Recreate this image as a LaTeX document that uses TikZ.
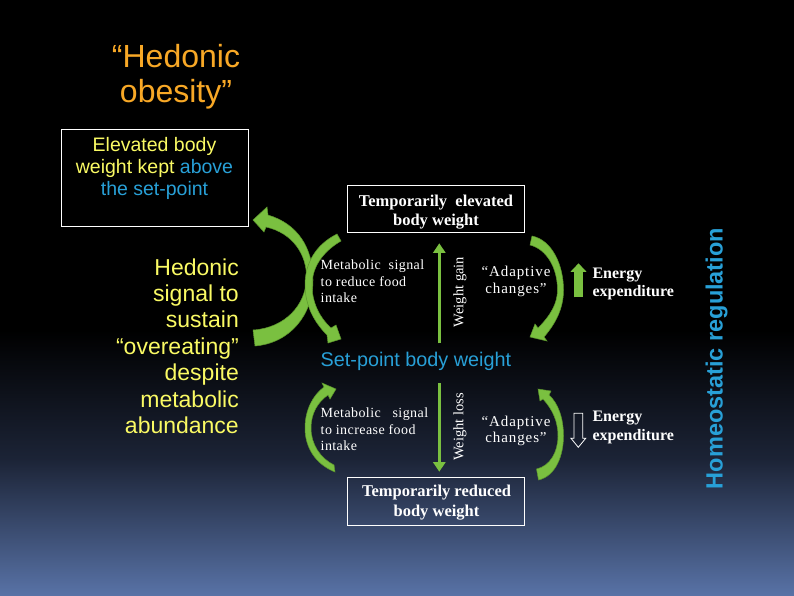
\documentclass[tikz,border=0pt]{standalone}
\usepackage{fontspec}
\setmainfont{Liberation Serif}
\setsansfont{Liberation Sans}
\usetikzlibrary{arrows.meta}
\definecolor{hyel}{RGB}{250,250,100}
\definecolor{hblu}{RGB}{40,160,215}
\definecolor{horg}{RGB}{248,168,38}
\definecolor{hgrn}{RGB}{122,192,64}
\definecolor{hgrnd}{RGB}{92,150,45}
\definecolor{bgmid}{RGB}{28,36,55}
\definecolor{bgbot}{RGB}{88,114,166}
\newcommand{\mlines}[2]{\begin{tabular}[t]{@{}#1@{}}#2\end{tabular}}
\begin{document}
\begin{tikzpicture}[x=1pt,y=-1pt,
  txt/.style={inner sep=0pt, anchor=base},
  titletxt/.style={txt, text=horg, font=\sffamily\fontsize{32}{35}\selectfont},
  elevtxt/.style={txt, text=hyel, font=\sffamily\fontsize{19.5}{21.7}\selectfont},
  hedtxt/.style={txt, anchor=base east, text=hyel, font=\sffamily\fontsize{23}{26.4}\selectfont},
  boxtxt/.style={txt, text=white, font=\bfseries\fontsize{16.5}{19.5}\selectfont},
  smalltxt/.style={txt, anchor=base west, text=white, font=\fontsize{14}{16.7}\selectfont\addfontfeature{LetterSpace=3}},
  adapttxt/.style={txt, text=white, font=\fontsize{15}{16.5}\selectfont\addfontfeature{LetterSpace=6}},
  energytxt/.style={txt, anchor=base west, text=white, font=\bfseries\fontsize{16}{18.4}\selectfont},
  wtxt/.style={inner sep=0pt, rotate=90, text=white, font=\fontsize{14.5}{16}\selectfont},
  wbox/.style={draw=white, line width=0.9pt, inner sep=0pt, fill=none},
  garrow/.style={fill=hgrn, draw=hgrnd, line width=0.5pt},
  varrow/.style={draw=hgrn, line width=3.5pt, -{Triangle[width=12pt,length=9.5pt]}},
]
% background
\fill[black] (0,0) rectangle (794,595);
\shade[top color=black, bottom color=bgmid] (0,330) rectangle (794,461);
\shade[top color=bgmid, bottom color=bgbot] (0,460) rectangle (794,595);
\useasboundingbox (0,0) rectangle (794,595);

% title
\node[titletxt] (title) at (176,67) {\mlines{c}{“Hedonic\\obesity”}};

% elevated box
\node[wbox, minimum width=187pt, minimum height=97pt] (elevbox) at (154.5,177.5) {};
\node[elevtxt] (elev) at (154.5,151.7) {\mlines{c}{Elevated body\\weight kept \textcolor{hblu}{above}\\\textcolor{hblu}{the set-point}}};

% hedonic signal
\node[hedtxt] (hed) at (239,275) {\mlines{r}{Hedonic\\signal to\\sustain\\“overeating”\\despite\\metabolic\\abundance}};

% temporarily boxes
\node[wbox, minimum width=177pt, minimum height=47pt] (tebox) at (435.5,208.5) {};
\node[boxtxt] (tetxt) at (436,206) {\mlines{c}{Temporarily~ elevated\\body weight}};
\node[wbox, minimum width=177pt, minimum height=48pt] (trbox) at (435.5,501) {};
\node[boxtxt] (trtxt) at (436.5,496.7) {\mlines{c}{Temporarily reduced\\body weight}};

% set-point
\node[txt, anchor=base west, text=hblu, font=\sffamily\fontsize{19.8}{22}\selectfont] (setpt) at (320.5,366.7) {Set-point body weight};

% metabolic signals
\node[smalltxt] (metup) at (320.5,269.3) {\mlines{l}{Metabolic~ signal\\to reduce food\\intake}};
\node[smalltxt] (metdn) at (320.5,417.3) {\mlines{l}{Metabolic~~ signal\\to increase food\\intake}};

% adaptive changes
\node[adapttxt] (adup) at (516,276.5) {\mlines{c}{“Adaptive\\changes”}};
\node[adapttxt] (addn) at (516,426) {\mlines{c}{“Adaptive\\changes”}};

% energy expenditure
\node[energytxt] (enup) at (592.3,278.3) {\mlines{l}{Energy\\expenditure}};
\node[energytxt] (endn) at (592.3,421.7) {\mlines{l}{Energy\\expenditure}};

% weight gain / loss
\node[wtxt] (wgain) at (460,292) {Weight gain};
\node[wtxt] (wloss) at (460,426.7) {Weight loss};
\coordinate (wg1) at (439.3,343.3);
\coordinate (wg2) at (439.3,243.3);
\coordinate (wl1) at (439.3,383.3);
\coordinate (wl2) at (439.3,471.7);
\draw[varrow] (wg1) -- (wg2);
\draw[varrow] (wl1) -- (wl2);

% energy arrows
\coordinate (eu1) at (578.5,297.3);
\coordinate (eu2) at (578.5,263.3);
\draw[draw=hgrn, line width=8.5pt, -{Triangle[width=15.5pt,length=8.5pt]}] (eu1) -- (eu2);
\draw[white, line width=0.8pt, line join=miter] (574,413.3) -- (582.7,413.3) -- (582.7,438.3) -- (585.7,438.3) -- (578.3,447.3) -- (571,438.3) -- (574,438.3) -- cycle;

% homeostatic regulation
\node[inner sep=0pt, rotate=90, text=hblu, font=\sffamily\bfseries\fontsize{23.5}{26}\selectfont] (homeo) at (716.5,358.5) {Homeostatic regulation};

% curved arrows
% A: big left arrow (tail bottom, head up-left)
\filldraw[garrow] (253,330) .. controls (285,328) and (306,305) .. (306.5,278) .. controls (307,255) and (293,233) .. (266,227) -- (264,232) -- (253,220) -- (267,207) -- (268,215) .. controls (298,224) and (313,248) .. (313,280) .. controls (313,315) and (290,343) .. (255,346) -- cycle;
% B: thin arrow (tail top right, head down-right)
\filldraw[garrow] (337,234) .. controls (315,245) and (305,264) .. (305,285) .. controls (305,305) and (314,322) .. (327,335) -- (328,343) -- (341,339) -- (336,325) -- (331,328) .. controls (320,318) and (312,303) .. (312,285) .. controls (312,268) and (322,252) .. (341,241) -- cycle;
% C: lower left arrow (tail bottom, head up-right)
\filldraw[garrow] (335,472) .. controls (315,464) and (305,447) .. (305,428) .. controls (305,410) and (313,395) .. (324,387) -- (322,383) -- (336,389) -- (330,399) -- (328,395) .. controls (318,402) and (311,413) .. (311,428) .. controls (311,444) and (320,458) .. (334,465) -- cycle;
% D: upper right arrow (tail top, head down-left)
\filldraw[garrow] (532,236) .. controls (552,240) and (563.5,265) .. (563.5,290) .. controls (563.5,308) and (556,323) .. (544,337) -- (547,341) -- (530,337) -- (535,324) -- (538,328) .. controls (551,315) and (557.5,303) .. (557.5,290) .. controls (557.5,267) and (546,249) .. (530,245) -- cycle;
% E: lower right arrow (tail bottom, head up-left)
\filldraw[garrow] (538.5,480) .. controls (556,476) and (563.5,455) .. (563.5,436) .. controls (563.5,418) and (558,403) .. (549,395) -- (551,391) -- (538,389) -- (540,401) -- (543,399) .. controls (553,410) and (558,422) .. (558,436) .. controls (558,452) and (550,466) .. (536.5,469) -- cycle;
\end{tikzpicture}
\end{document}
